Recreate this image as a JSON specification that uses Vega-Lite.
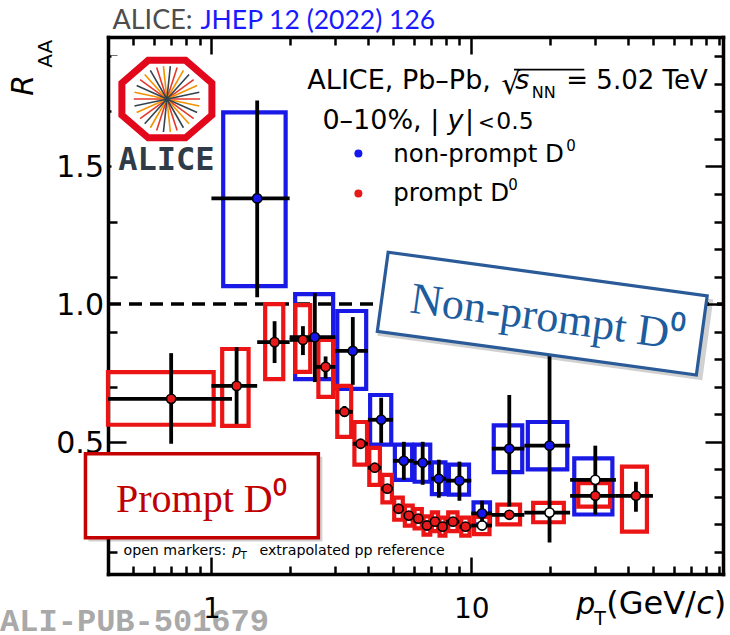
{
"$schema": "https://vega.github.io/schema/vega-lite/v6.json",
"width": 615, "height": 537,
"autosize": "none",
"padding": {"left": 108, "top": 37, "right": 7, "bottom": 61},
"background": "white",
"config": {"view": {"stroke": null}, "axis": {"labelOverlap": false}},
"datasets": {"pts": [
{"s":"p","pt":0.7,"y":0.656,"ylo":0.493,"yhi":0.822,"blo":0.4,"bhi":1.2,"bxlo":0.4,"bxhi":1.02,"bylo":0.562,"byhi":0.753,"ref":"m"},
{"s":"p","pt":1.25,"y":0.703,"ylo":0.565,"yhi":0.844,"blo":1.0,"bhi":1.5,"bxlo":1.10,"bxhi":1.39,"bylo":0.558,"byhi":0.837,"ref":"m"},
{"s":"p","pt":1.75,"y":0.862,"ylo":0.786,"yhi":0.938,"blo":1.5,"bhi":2.0,"bxlo":1.61,"bxhi":1.89,"bylo":0.728,"byhi":1.0,"ref":"m"},
{"s":"p","pt":2.25,"y":0.870,"ylo":0.815,"yhi":0.92,"blo":2.0,"bhi":2.5,"bxlo":2.1,"bxhi":2.4,"bylo":0.754,"byhi":0.996,"ref":"m"},
{"s":"p","pt":2.75,"y":0.772,"ylo":0.73,"yhi":0.81,"blo":2.5,"bhi":3.0,"bxlo":2.58,"bxhi":2.94,"bylo":0.663,"byhi":0.87,"ref":"m"},
{"s":"p","pt":3.25,"y":0.609,"ylo":0.59,"yhi":0.63,"blo":3.0,"bhi":3.5,"bxlo":3.05,"bxhi":3.45,"bylo":0.518,"byhi":0.703,"ref":"m"},
{"s":"p","pt":3.75,"y":0.493,"ylo":0.478,"yhi":0.508,"blo":3.5,"bhi":4.0,"bxlo":3.55,"bxhi":3.97,"bylo":0.417,"byhi":0.572,"ref":"m"},
{"s":"p","pt":4.25,"y":0.406,"ylo":0.394,"yhi":0.418,"blo":4.0,"bhi":4.5,"bxlo":4.05,"bxhi":4.45,"bylo":0.344,"byhi":0.478,"ref":"m"},
{"s":"p","pt":4.75,"y":0.33,"ylo":0.32,"yhi":0.34,"blo":4.5,"bhi":5.0,"bxlo":4.55,"bxhi":4.95,"bylo":0.28,"byhi":0.38,"ref":"m"},
{"s":"p","pt":5.25,"y":0.257,"ylo":0.248,"yhi":0.266,"blo":5.0,"bhi":5.5,"bxlo":5.05,"bxhi":5.45,"bylo":0.217,"byhi":0.297,"ref":"m"},
{"s":"p","pt":5.75,"y":0.232,"ylo":0.224,"yhi":0.24,"blo":5.5,"bhi":6.0,"bxlo":5.55,"bxhi":5.95,"bylo":0.196,"byhi":0.268,"ref":"m"},
{"s":"p","pt":6.25,"y":0.221,"ylo":0.213,"yhi":0.229,"blo":6.0,"bhi":6.5,"bxlo":6.05,"bxhi":6.45,"bylo":0.186,"byhi":0.256,"ref":"m"},
{"s":"p","pt":6.75,"y":0.196,"ylo":0.188,"yhi":0.204,"blo":6.5,"bhi":7.0,"bxlo":6.55,"bxhi":6.95,"bylo":0.163,"byhi":0.229,"ref":"m"},
{"s":"p","pt":7.25,"y":0.21,"ylo":0.202,"yhi":0.218,"blo":7.0,"bhi":7.5,"bxlo":7.05,"bxhi":7.45,"bylo":0.176,"byhi":0.244,"ref":"m"},
{"s":"p","pt":7.75,"y":0.192,"ylo":0.184,"yhi":0.2,"blo":7.5,"bhi":8.0,"bxlo":7.55,"bxhi":7.95,"bylo":0.159,"byhi":0.225,"ref":"m"},
{"s":"p","pt":8.5,"y":0.21,"ylo":0.202,"yhi":0.218,"blo":8.0,"bhi":9.0,"bxlo":8.15,"bxhi":8.85,"bylo":0.176,"byhi":0.244,"ref":"m"},
{"s":"p","pt":9.5,"y":0.192,"ylo":0.184,"yhi":0.2,"blo":9.0,"bhi":10,"bxlo":9.15,"bxhi":9.85,"bylo":0.159,"byhi":0.225,"ref":"m"},
{"s":"p","pt":11,"y":0.196,"ylo":0.186,"yhi":0.206,"blo":10,"bhi":12,"bxlo":10.25,"bxhi":11.75,"bylo":0.165,"byhi":0.227,"ref":"e"},
{"s":"p","pt":14,"y":0.235,"ylo":0.222,"yhi":0.248,"blo":12,"bhi":16,"bxlo":12.6,"bxhi":15.4,"bylo":0.2,"byhi":0.272,"ref":"m"},
{"s":"p","pt":20,"y":0.243,"ylo":0.23,"yhi":0.256,"blo":16,"bhi":24,"bxlo":17.3,"bxhi":22.7,"bylo":0.208,"byhi":0.278,"ref":"e"},
{"s":"p","pt":30,"y":0.304,"ylo":0.285,"yhi":0.323,"blo":24,"bhi":36,"bxlo":25.8,"bxhi":34.2,"bylo":0.265,"byhi":0.35,"ref":"m"},
{"s":"p","pt":43,"y":0.304,"ylo":0.246,"yhi":0.355,"blo":36,"bhi":50,"bxlo":38,"bxhi":47.4,"bylo":0.174,"byhi":0.41,"ref":"m"},
{"s":"np","pt":1.5,"y":1.384,"ylo":1.025,"yhi":1.739,"blo":1,"bhi":2,"bxlo":1.11,"bxhi":1.93,"bylo":1.065,"byhi":1.696,"ref":"m"},
{"s":"np","pt":2.5,"y":0.88,"ylo":0.717,"yhi":1.04,"blo":2,"bhi":3,"bxlo":2.1,"bxhi":2.94,"bylo":0.728,"byhi":1.036,"ref":"m"},
{"s":"np","pt":3.5,"y":0.83,"ylo":0.707,"yhi":0.953,"blo":3,"bhi":4,"bxlo":3.05,"bxhi":3.94,"bylo":0.692,"byhi":0.975,"ref":"m"},
{"s":"np","pt":4.5,"y":0.58,"ylo":0.496,"yhi":0.66,"blo":4,"bhi":5,"bxlo":4.08,"bxhi":4.92,"bylo":0.49,"byhi":0.67,"ref":"m"},
{"s":"np","pt":5.5,"y":0.431,"ylo":0.362,"yhi":0.5,"blo":5,"bhi":6,"bxlo":5.08,"bxhi":5.92,"bylo":0.362,"byhi":0.49,"ref":"m"},
{"s":"np","pt":6.5,"y":0.424,"ylo":0.344,"yhi":0.5,"blo":6,"bhi":7,"bxlo":6.05,"bxhi":6.95,"bylo":0.355,"byhi":0.49,"ref":"m"},
{"s":"np","pt":7.5,"y":0.366,"ylo":0.297,"yhi":0.435,"blo":7,"bhi":8,"bxlo":7.05,"bxhi":7.95,"bylo":0.31,"byhi":0.425,"ref":"m"},
{"s":"np","pt":9,"y":0.359,"ylo":0.286,"yhi":0.428,"blo":8,"bhi":10,"bxlo":8.2,"bxhi":9.8,"bylo":0.308,"byhi":0.417,"ref":"m"},
{"s":"np","pt":11,"y":0.24,"ylo":0.192,"yhi":0.286,"blo":10,"bhi":12,"bxlo":10.2,"bxhi":11.8,"bylo":0.2,"byhi":0.28,"ref":"m"},
{"s":"np","pt":14,"y":0.475,"ylo":0.265,"yhi":0.67,"blo":12,"bhi":16,"bxlo":12.2,"bxhi":15.7,"bylo":0.39,"byhi":0.56,"ref":"m"},
{"s":"np","pt":20,"y":0.486,"ylo":0.134,"yhi":0.838,"blo":16,"bhi":24,"bxlo":16.5,"bxhi":23.4,"bylo":0.40,"byhi":0.572,"ref":"m"},
{"s":"np","pt":30,"y":0.362,"ylo":0.236,"yhi":0.486,"blo":24,"bhi":36,"bxlo":24.9,"bxhi":34.9,"bylo":0.236,"byhi":0.44,"ref":"e"}
]},
"layer": [
{"layer": [
 {"data": {"values": [{}]},
  "mark": {"type": "rule", "color": "black", "strokeWidth": 3.5, "strokeDash": [13, 8]},
  "encoding": {
   "x": {"datum": 0.4, "type": "quantitative", "scale": {"type": "log", "domain": [0.4, 93], "nice": false},
    "axis": {"orient": "bottom", "title": null, "grid": false, "values": [0.4,0.5,0.6,0.7,0.8,0.9,1,2,3,4,5,6,7,8,9,10,20,30,40,50,60,70,80,90],
     "labelExpr": "abs(datum.value - 1) < 0.001 ? '1' : abs(datum.value - 10) < 0.01 ? '10' : ''", "labelOverlap": false, "labelFlush": false, "labelBound": false,
     "labelFont": "DejaVu Sans", "labelFontSize": {"condition": {"test": "abs(datum.value - 1) < 0.001 || abs(datum.value - 10) < 0.01", "value": 28}, "value": 0.1}, "labelColor": "black", "labelPadding": 38,
     "tickSize": {"condition": {"test": "abs(datum.value - 1) < 0.001 || abs(datum.value - 10) < 0.01", "value": -17}, "value": -8},
     "tickWidth": 2.5, "tickColor": "black", "domainColor": "black", "domainWidth": 3.5, "domainCap": "square", "zindex": 1}},
   "x2": {"datum": 93},
   "y": {"datum": 1, "type": "quantitative", "scale": {"domain": [0.02, 1.97], "nice": false, "zero": false},
    "axis": {"orient": "left", "title": null, "grid": false, "labels": false, "values": [0.1,0.2,0.3,0.4,0.5,0.6,0.7,0.8,0.9,1,1.1,1.2,1.3,1.4,1.5,1.6,1.7,1.8,1.9],
     "tickSize": {"condition": {"test": "abs(datum.value - 0.5) < 0.001 || abs(datum.value - 1) < 0.001 || abs(datum.value - 1.5) < 0.001", "value": -18}, "value": -9},
     "tickWidth": 2.5, "tickColor": "black", "domainColor": "black", "domainWidth": 3.5, "domainCap": "square", "zindex": 0}}
  }},
 {"data": {"values": [{"v": 0.5, "t": "0.5"}, {"v": 1.0, "t": "1.0"}, {"v": 1.5, "t": "1.5"}]},
  "mark": {"type": "text", "font": "DejaVu Sans", "fontSize": 30, "align": "right", "baseline": "middle", "dx": -4, "dy": 2, "color": "black"},
  "encoding": {"x": {"datum": 0.4, "type": "quantitative"}, "y": {"field": "v", "type": "quantitative"}, "text": {"field": "t"}}},
 {"data": {"name": "pts"}, "transform": [{"filter": "datum.s == 'np'"}],
  "mark": {"type": "rect", "filled": false, "color": "#1a1ae6", "strokeWidth": 4.2},
  "encoding": {"x": {"field": "bxlo", "type": "quantitative"}, "x2": {"field": "bxhi"}, "y": {"field": "bylo", "type": "quantitative"}, "y2": {"field": "byhi"}}},
 {"data": {"name": "pts"}, "transform": [{"filter": "datum.s == 'p'"}],
  "mark": {"type": "rect", "filled": false, "color": "#ec1515", "strokeWidth": 4.2},
  "encoding": {"x": {"field": "bxlo", "type": "quantitative"}, "x2": {"field": "bxhi"}, "y": {"field": "bylo", "type": "quantitative"}, "y2": {"field": "byhi"}}},
 {"data": {"name": "pts"},
  "mark": {"type": "rule", "color": "black", "strokeWidth": 3.8},
  "encoding": {"x": {"field": "blo", "type": "quantitative"}, "x2": {"field": "bhi"}, "y": {"field": "y", "type": "quantitative"}}},
 {"data": {"name": "pts"},
  "mark": {"type": "rule", "color": "black", "strokeWidth": 3.8},
  "encoding": {"x": {"field": "pt", "type": "quantitative"}, "y": {"field": "ylo", "type": "quantitative"}, "y2": {"field": "yhi"}}},
 {"data": {"name": "pts"},
  "mark": {"type": "point", "shape": "circle", "filled": true, "size": 85, "stroke": "black", "strokeWidth": 1.6, "opacity": 1},
  "encoding": {"x": {"field": "pt", "type": "quantitative"}, "y": {"field": "y", "type": "quantitative"},
   "fill": {"condition": {"test": "datum.ref == 'e'", "value": "white"}, "field": "s", "type": "nominal", "scale": {"domain": ["p", "np"], "range": ["#e8191b", "#1616ee"]}, "legend": null}}},
 {"data": {"values": [{}]}, "mark": {"type": "point", "shape": "circle", "filled": true, "size": 64, "color": "#1616ee", "opacity": 1},
  "encoding": {"x": {"datum": 3.677, "type": "quantitative"}, "y": {"datum": 1.547, "type": "quantitative"}}},
 {"data": {"values": [{}]}, "mark": {"type": "point", "shape": "circle", "filled": true, "size": 64, "color": "#e8191b", "opacity": 1},
  "encoding": {"x": {"datum": 3.677, "type": "quantitative"}, "y": {"datum": 1.402, "type": "quantitative"}}},

 {"data": {"values": [{}]}, "mark": {"type": "text", "text": "ALICE, Pb–Pb,", "font": "DejaVu Sans", "fontSize": 27, "align": "left", "baseline": "alphabetic", "color": "black"},
  "encoding": {"x": {"datum": 2.34, "type": "quantitative"}, "y": {"datum": 1.7826, "type": "quantitative"}}},
 {"data": {"values": [{}]}, "mark": {"type": "text", "text": "√", "font": "DejaVu Sans", "fontSize": 30, "align": "left", "baseline": "alphabetic", "color": "black"},
  "encoding": {"x": {"datum": 13.04, "type": "quantitative"}, "y": {"datum": 1.7645, "type": "quantitative"}}},
 {"data": {"values": [{}]}, "mark": {"type": "rule", "color": "black", "strokeWidth": 1.8},
  "encoding": {"x": {"datum": 14.6, "type": "quantitative"}, "x2": {"datum": 27.2}, "y": {"datum": 1.8514, "type": "quantitative"}}},
 {"data": {"values": [{}]}, "mark": {"type": "text", "text": "s", "font": "DejaVu Sans", "fontSize": 27, "fontStyle": "italic", "align": "left", "baseline": "alphabetic", "color": "black"},
  "encoding": {"x": {"datum": 14.77, "type": "quantitative"}, "y": {"datum": 1.7826, "type": "quantitative"}}},
 {"data": {"values": [{}]}, "mark": {"type": "text", "text": "NN", "font": "DejaVu Sans", "fontSize": 16, "align": "left", "baseline": "alphabetic", "color": "black"},
  "encoding": {"x": {"datum": 17.1, "type": "quantitative"}, "y": {"datum": 1.75, "type": "quantitative"}}},
 {"data": {"values": [{}]}, "mark": {"type": "text", "text": "= 5.02 TeV", "font": "DejaVu Sans", "fontSize": 26, "align": "left", "baseline": "alphabetic", "color": "black"},
  "encoding": {"x": {"datum": 23.2, "type": "quantitative"}, "y": {"datum": 1.7826, "type": "quantitative"}}},
 {"data": {"values": [{}]}, "mark": {"type": "text", "text": "0–10%, |", "font": "DejaVu Sans", "fontSize": 27, "align": "left", "baseline": "alphabetic", "color": "black"},
  "encoding": {"x": {"datum": 2.673, "type": "quantitative"}, "y": {"datum": 1.6377, "type": "quantitative"}}},
 {"data": {"values": [{}]}, "mark": {"type": "text", "text": "y", "font": "DejaVu Sans", "fontSize": 27, "fontStyle": "italic", "align": "left", "baseline": "alphabetic", "color": "black"},
  "encoding": {"x": {"datum": 8.1, "type": "quantitative"}, "y": {"datum": 1.6377, "type": "quantitative"}}},
 {"data": {"values": [{}]}, "mark": {"type": "text", "text": "|", "font": "DejaVu Sans", "fontSize": 27, "align": "left", "baseline": "alphabetic", "color": "black"},
  "encoding": {"x": {"datum": 9.45, "type": "quantitative"}, "y": {"datum": 1.6377, "type": "quantitative"}}},
 {"data": {"values": [{}]}, "mark": {"type": "text", "text": "<", "font": "DejaVu Sans", "fontSize": 20, "align": "left", "baseline": "alphabetic", "color": "black"},
  "encoding": {"x": {"datum": 10.6, "type": "quantitative"}, "y": {"datum": 1.6377, "type": "quantitative"}}},
 {"data": {"values": [{}]}, "mark": {"type": "text", "text": "0.5", "font": "DejaVu Sans", "fontSize": 23.5, "align": "left", "baseline": "alphabetic", "color": "black"},
  "encoding": {"x": {"datum": 12.48, "type": "quantitative"}, "y": {"datum": 1.6377, "type": "quantitative"}}},
 {"data": {"values": [{}]}, "mark": {"type": "text", "text": "non-prompt D", "font": "DejaVu Sans", "fontSize": 24.5, "align": "left", "baseline": "alphabetic", "color": "black"},
  "encoding": {"x": {"datum": 5.01, "type": "quantitative"}, "y": {"datum": 1.5145, "type": "quantitative"}}},
 {"data": {"values": [{}]}, "mark": {"type": "text", "text": "0", "font": "DejaVu Sans", "fontSize": 15, "align": "left", "baseline": "alphabetic", "color": "black"},
  "encoding": {"x": {"datum": 23.2, "type": "quantitative"}, "y": {"datum": 1.5543, "type": "quantitative"}}},
 {"data": {"values": [{}]}, "mark": {"type": "text", "text": "prompt D", "font": "DejaVu Sans", "fontSize": 24.5, "align": "left", "baseline": "alphabetic", "color": "black"},
  "encoding": {"x": {"datum": 5.01, "type": "quantitative"}, "y": {"datum": 1.3732, "type": "quantitative"}}},
 {"data": {"values": [{}]}, "mark": {"type": "text", "text": "0", "font": "DejaVu Sans", "fontSize": 15, "align": "left", "baseline": "alphabetic", "color": "black"},
  "encoding": {"x": {"datum": 13.87, "type": "quantitative"}, "y": {"datum": 1.413, "type": "quantitative"}}},
 {"data": {"values": [{}]}, "mark": {"type": "text", "text": "open markers:", "font": "DejaVu Sans", "fontSize": 14.2, "align": "left", "baseline": "alphabetic", "color": "black"},
  "encoding": {"x": {"datum": 0.4587, "type": "quantitative"}, "y": {"datum": 0.0906, "type": "quantitative"}}},
 {"data": {"values": [{}]}, "mark": {"type": "text", "text": "p", "font": "DejaVu Sans", "fontSize": 14.2, "fontStyle": "italic", "align": "left", "baseline": "alphabetic", "color": "black"},
  "encoding": {"x": {"datum": 1.204, "type": "quantitative"}, "y": {"datum": 0.0906, "type": "quantitative"}}},
 {"data": {"values": [{}]}, "mark": {"type": "text", "text": "T", "font": "DejaVu Sans", "fontSize": 10.5, "align": "left", "baseline": "alphabetic", "color": "black"},
  "encoding": {"x": {"datum": 1.293, "type": "quantitative"}, "y": {"datum": 0.0761, "type": "quantitative"}}},
 {"data": {"values": [{}]}, "mark": {"type": "text", "text": "extrapolated pp reference", "font": "DejaVu Sans", "fontSize": 14.2, "align": "left", "baseline": "alphabetic", "color": "black"},
  "encoding": {"x": {"datum": 1.53, "type": "quantitative"}, "y": {"datum": 0.0906, "type": "quantitative"}}},

 {"data": {"values": [{}]}, "mark": {"type": "rect", "color": "white", "opacity": 1},
  "encoding": {"x": {"datum": 0.4125, "type": "quantitative"}, "x2": {"datum": 1.06}, "y": {"datum": 1.471, "type": "quantitative"}, "y2": {"datum": 1.902}}},
 {"data": {"values": [{}]}, "mark": {"type": "point", "shape": "M0.924,0.329L0.383,0.795L-0.383,0.795L-0.924,0.329L-0.924,-0.329L-0.383,-0.795L0.383,-0.795L0.924,-0.329Z", "size": 9487, "filled": true, "fill": "white", "stroke": "#e2071b", "strokeWidth": 7, "opacity": 1},
  "encoding": {"x": {"datum": 0.674, "type": "quantitative"}, "y": {"datum": 1.7446, "type": "quantitative"}}},
 {"data": {"values": [{}]}, "mark": {"type": "point", "shape": "M0.75,0L-0.75,0M0.607,0.441L-0.607,-0.441M0.232,0.713L-0.232,-0.713M-0.232,0.713L0.232,-0.713M-0.607,0.441L0.607,-0.441", "size": 7800, "filled": false, "color": "#e5392d", "strokeWidth": 1.6, "opacity": 1},
  "encoding": {"x": {"datum": 0.674, "type": "quantitative"}, "y": {"datum": 1.7446, "type": "quantitative"}}},
 {"data": {"values": [{}]}, "mark": {"type": "point", "shape": "M0.734,0.156L-0.734,-0.156M0.502,0.557L-0.502,-0.557M0.078,0.746L-0.078,-0.746M-0.375,0.65L0.375,-0.65M-0.685,0.305L0.685,-0.305", "size": 7800, "filled": false, "color": "#f39200", "strokeWidth": 1.6, "opacity": 1},
  "encoding": {"x": {"datum": 0.674, "type": "quantitative"}, "y": {"datum": 1.7446, "type": "quantitative"}}},
 {"data": {"values": [{}]}, "mark": {"type": "point", "shape": "M0.685,0.305L-0.685,-0.305M0.375,0.65L-0.375,-0.65M-0.078,0.746L0.078,-0.746M-0.502,0.557L0.502,-0.557M-0.734,0.156L0.734,-0.156", "size": 7800, "filled": false, "color": "#34444f", "strokeWidth": 1.6, "opacity": 1},
  "encoding": {"x": {"datum": 0.674, "type": "quantitative"}, "y": {"datum": 1.7446, "type": "quantitative"}}},
 {"data": {"values": [{}]}, "mark": {"type": "text", "text": "ALICE", "font": "DejaVu Sans Mono", "fontSize": 32, "fontWeight": "bold", "align": "center", "baseline": "alphabetic", "color": "#2f3b47"},
  "encoding": {"x": {"datum": 0.671, "type": "quantitative"}, "y": {"datum": 1.4855, "type": "quantitative"}}},

 {"data": {"values": [{}]}, "mark": {"type": "point", "shape": "M-1,-0.248L1,-0.248L1,0.248L-1,0.248Z", "size": 107584, "angle": 7.8, "filled": true, "color": "#000000", "opacity": 0.18, "strokeWidth": 0},
  "encoding": {"x": {"datum": 19.26, "type": "quantitative"}, "y": {"datum": 0.951, "type": "quantitative"}}},
 {"data": {"values": [{}]}, "mark": {"type": "point", "shape": "M-1,-0.248L1,-0.248L1,0.248L-1,0.248Z", "size": 103684, "angle": 7.8, "filled": true, "fill": "white", "stroke": "#2a5a98", "strokeWidth": 3.2, "opacity": 1},
  "encoding": {"x": {"datum": 18.75, "type": "quantitative"}, "y": {"datum": 0.9656, "type": "quantitative"}}},
 {"data": {"values": [{}]}, "mark": {"type": "text", "text": "Non-prompt D⁰", "font": "Liberation Serif", "fontSize": 44, "angle": 7.8, "align": "center", "baseline": "middle", "color": "#1d5d9e"},
  "encoding": {"x": {"datum": 19.6, "type": "quantitative"}, "y": {"datum": 0.949, "type": "quantitative"}}},
 {"data": {"values": [{}]}, "mark": {"type": "rect", "color": "#000000", "opacity": 0.18},
  "encoding": {"x": {"datum": 0.3365, "type": "quantitative"}, "x2": {"datum": 2.672}, "y": {"datum": 0.4457, "type": "quantitative"}, "y2": {"datum": 0.1377}}},
 {"data": {"values": [{}]}, "mark": {"type": "rect", "fill": "white", "stroke": "#c40000", "strokeWidth": 3.5, "opacity": 1},
  "encoding": {"x": {"datum": 0.3276, "type": "quantitative"}, "x2": {"datum": 2.579}, "y": {"datum": 0.4565, "type": "quantitative"}, "y2": {"datum": 0.152}}},
 {"data": {"values": [{}]}, "mark": {"type": "text", "text": "Prompt D⁰", "font": "Liberation Serif", "fontSize": 40, "align": "center", "baseline": "alphabetic", "color": "#c00000"},
  "encoding": {"x": {"datum": 0.915, "type": "quantitative"}, "y": {"datum": 0.2464, "type": "quantitative"}}},

 {"data": {"values": [{}]}, "mark": {"type": "text", "text": "ALICE:", "font": "Lato", "fontSize": 27, "align": "left", "baseline": "alphabetic", "color": "#4d4d4d"},
  "encoding": {"x": {"datum": 0.416, "type": "quantitative"}, "y": {"datum": 2.0, "type": "quantitative"}}},
 {"data": {"values": [{}]}, "mark": {"type": "text", "text": "JHEP 12 (2022) 126", "font": "Lato", "fontSize": 26.5, "align": "left", "baseline": "alphabetic", "color": "#1a1aff"},
  "encoding": {"x": {"datum": 0.907, "type": "quantitative"}, "y": {"datum": 2.0, "type": "quantitative"}}},
 {"data": {"values": [{}]}, "mark": {"type": "text", "text": "ALI-PUB-501679", "font": "Liberation Mono", "fontWeight": "bold", "fontSize": 32, "align": "left", "baseline": "alphabetic", "color": "#a9a9a9"},
  "encoding": {"x": {"datum": 0.1538, "type": "quantitative"}, "y": {"datum": -0.188, "type": "quantitative"}}},
 {"data": {"values": [{}]}, "mark": {"type": "text", "text": "p", "font": "DejaVu Sans", "fontSize": 30, "fontStyle": "italic", "align": "left", "baseline": "alphabetic", "color": "black"},
  "encoding": {"x": {"datum": 25.34, "type": "quantitative"}, "y": {"datum": -0.1268, "type": "quantitative"}}},
 {"data": {"values": [{}]}, "mark": {"type": "text", "text": "T", "font": "DejaVu Sans", "fontSize": 19, "align": "left", "baseline": "alphabetic", "color": "black"},
  "encoding": {"x": {"datum": 29.7, "type": "quantitative"}, "y": {"datum": -0.1667, "type": "quantitative"}}},
 {"data": {"values": [{}]}, "mark": {"type": "text", "text": "(GeV/", "font": "DejaVu Sans", "fontSize": 32, "align": "left", "baseline": "alphabetic", "color": "black"},
  "encoding": {"x": {"datum": 33.05, "type": "quantitative"}, "y": {"datum": -0.1268, "type": "quantitative"}}},
 {"data": {"values": [{}]}, "mark": {"type": "text", "text": "c", "font": "DejaVu Sans", "fontSize": 32, "fontStyle": "italic", "align": "left", "baseline": "alphabetic", "color": "black"},
  "encoding": {"x": {"datum": 73.37, "type": "quantitative"}, "y": {"datum": -0.1268, "type": "quantitative"}}},
 {"data": {"values": [{}]}, "mark": {"type": "text", "text": ")", "font": "DejaVu Sans", "fontSize": 32, "align": "left", "baseline": "alphabetic", "color": "black"},
  "encoding": {"x": {"datum": 85.64, "type": "quantitative"}, "y": {"datum": -0.1268, "type": "quantitative"}}},
 {"data": {"values": [{}]}, "mark": {"type": "text", "text": "R", "font": "DejaVu Sans", "fontSize": 30, "fontStyle": "italic", "angle": -90, "align": "left", "baseline": "alphabetic", "color": "black"},
  "encoding": {"x": {"datum": 0.2067, "type": "quantitative"}, "y": {"datum": 1.757, "type": "quantitative"}}},
 {"data": {"values": [{}]}, "mark": {"type": "text", "text": "AA", "font": "DejaVu Sans", "fontSize": 20, "angle": -90, "align": "left", "baseline": "alphabetic", "color": "black"},
  "encoding": {"x": {"datum": 0.2446, "type": "quantitative"}, "y": {"datum": 1.8587, "type": "quantitative"}}}
]},
{"data": {"values": [{}]},
 "mark": {"type": "point", "opacity": 0},
 "encoding": {
  "x": {"datum": 1, "type": "quantitative", "scale": {"type": "log", "domain": [0.4, 93], "nice": false},
   "axis": {"orient": "top", "title": null, "grid": false, "labels": false, "values": [0.4,0.5,0.6,0.7,0.8,0.9,1,2,3,4,5,6,7,8,9,10,20,30,40,50,60,70,80,90],
    "tickSize": {"condition": {"test": "abs(datum.value - 1) < 0.001 || abs(datum.value - 10) < 0.01", "value": -17}, "value": -8},
    "tickWidth": 2.5, "tickColor": "black", "domainColor": "black", "domainWidth": 3.5, "domainCap": "square", "zindex": 0}},
  "y": {"datum": 1, "type": "quantitative", "scale": {"domain": [0.02, 1.97], "nice": false, "zero": false},
   "axis": {"orient": "right", "title": null, "grid": false, "labels": false, "values": [0.1,0.2,0.3,0.4,0.5,0.6,0.7,0.8,0.9,1,1.1,1.2,1.3,1.4,1.5,1.6,1.7,1.8,1.9],
    "tickSize": {"condition": {"test": "abs(datum.value - 0.5) < 0.001 || abs(datum.value - 1) < 0.001 || abs(datum.value - 1.5) < 0.001", "value": -18}, "value": -9},
    "tickWidth": 2.5, "tickColor": "black", "domainColor": "black", "domainWidth": 3.5, "domainCap": "square", "zindex": 0}}
 }}
],
"resolve": {"axis": {"x": "independent", "y": "independent"}}
}
